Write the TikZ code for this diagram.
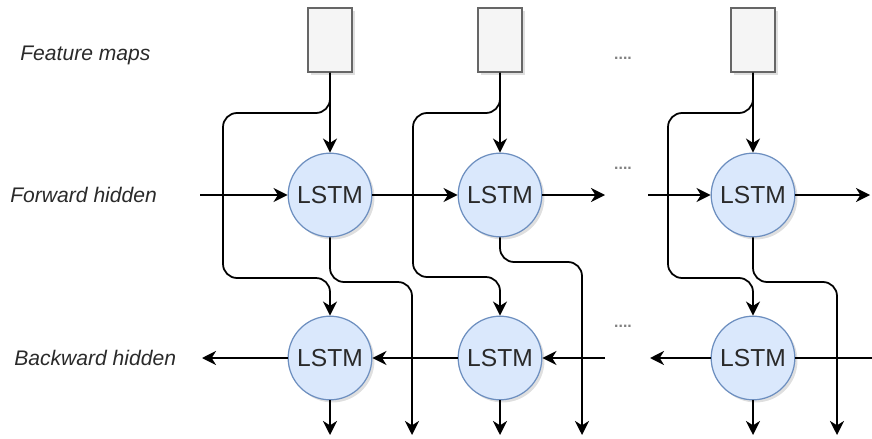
\documentclass[tikz,border=0pt]{standalone}
\usepackage{fontspec}
\setmainfont{Liberation Sans}
\usetikzlibrary{arrows.meta,shadows}

\definecolor{lstmfill}{HTML}{DAE8FC}
\definecolor{lstmline}{HTML}{6C8EBF}
\definecolor{fmfill}{HTML}{F5F5F5}
\definecolor{fmline}{HTML}{666666}
\definecolor{textgray}{HTML}{2A2A2A}

\begin{document}
\begin{tikzpicture}[x=0.02cm, y=-0.02cm,
    lstm/.style={draw=lstmline, fill=lstmfill, circle, line width=0.7pt, minimum size=47.6pt, inner sep=0pt,
        font=\fontsize{14}{16}\selectfont, text=textgray,
        drop shadow={shadow xshift=1.5pt, shadow yshift=-1.5pt, opacity=0.25}},
    fmap/.style={draw=fmline, fill=fmfill, rectangle, line width=0.7pt, minimum width=25pt, minimum height=36.3pt, inner sep=0pt,
        drop shadow={shadow xshift=1.5pt, shadow yshift=-1.5pt, opacity=0.25}},
    lbl/.style={anchor=west, inner sep=0pt, font=\fontsize{12}{14}\selectfont\itshape, text=textgray},
    etc/.style={font=\fontsize{9}{9}\selectfont\bfseries, text=gray},
    conn/.style={line width=1pt, -{Stealth[length=8pt,width=8pt,inset=2.5pt]}, rounded corners=8pt},
    plain/.style={line width=1pt}]
        \useasboundingbox (0,0) rectangle (872,439);

        \node[lbl] (tfm) at (20,55) {Feature maps};
        \node[lbl] (tfw) at (10,195) {Forward hidden};
        \node[lbl] (tbw) at (14,358) {Backward hidden};

        \node[fmap] (fm1) at (330,40) {};
        \node[fmap] (fm2) at (500,40) {};
        \node[fmap] (fm3) at (753,40) {};

        \node[lstm] (f1) at (330,195) {LSTM};
        \node[lstm] (f2) at (500,195) {LSTM};
        \node[lstm] (f3) at (753,195) {LSTM};

        \node[lstm] (b1) at (330,358) {LSTM};
        \node[lstm] (b2) at (500,358) {LSTM};
        \node[lstm] (b3) at (753,358) {LSTM};

        \node[etc] (d1) at (623,58) {....};
        \node[etc] (d2) at (623,168) {....};
        \node[etc] (d3) at (623,326) {....};

        % free ends
        \coordinate (fin) at (200,195);
        \coordinate (fgap) at (605,195);
        \coordinate (fres) at (648,195);
        \coordinate (fout) at (870,195);
        \coordinate (bin) at (872,358);
        \coordinate (bgap) at (650,358);
        \coordinate (bres) at (605,358);
        \coordinate (bout) at (202,358);
        \coordinate (o1) at (412,435);
        \coordinate (o2) at (582,435);
        \coordinate (o3) at (837,435);
        \coordinate (ob1) at (330,435);
        \coordinate (ob2) at (500,435);
        \coordinate (ob3) at (753,435);

        % feature maps into both directions
        \draw[conn] (fm1) -- (f1);
        \draw[conn] (fm2) -- (f2);
        \draw[conn] (fm3) -- (f3);
        \draw[conn] (fm1.south) |- (223,113) |- (330,278) -- (b1.north);
        \draw[conn] (fm2.south) |- (413,113) |- (500,277) -- (b2.north);
        \draw[conn] (fm3.south) |- (668,113) |- (753,278) -- (b3.north);

        % forward row
        \draw[conn] (fin) -- (f1);
        \draw[conn] (f1) -- (f2);
        \draw[conn] (f2) -- (fgap);
        \draw[conn] (fres) -- (f3);
        \draw[conn] (f3) -- (fout);
        \draw[conn] (f1.south) |- (412,282) -- (o1);
        \draw[conn] (f2.south) |- (582,262) -- (o2);
        \draw[conn] (f3.south) |- (837,282) -- (o3);

        % backward row
        \draw[plain] (bin) -- (b3);
        \draw[conn] (b3) -- (bgap);
        \draw[conn] (bres) -- (b2);
        \draw[conn] (b2) -- (b1);
        \draw[conn] (b1) -- (bout);
        \draw[conn] (b1) -- (ob1);
        \draw[conn] (b2) -- (ob2);
        \draw[conn] (b3) -- (ob3);
\end{tikzpicture}
\end{document}
